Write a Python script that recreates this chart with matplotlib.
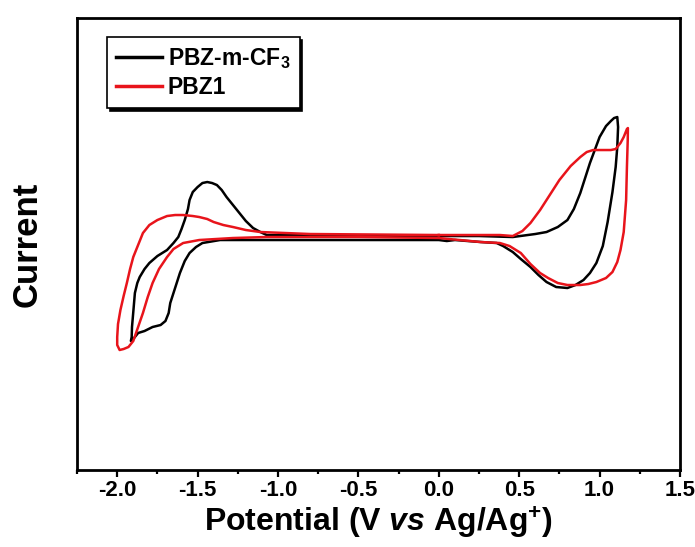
import matplotlib
matplotlib.use("Agg")
import matplotlib.pyplot as plt
from matplotlib.ticker import MultipleLocator

plt.rcParams['font.family'] = ['Liberation Sans', 'DejaVu Sans']
plt.rcParams['font.weight'] = 'bold'
plt.rcParams['mathtext.fontset'] = 'custom'
plt.rcParams['mathtext.rm'] = 'Liberation Sans:bold'
plt.rcParams['mathtext.it'] = 'Liberation Sans:italic:bold'
plt.rcParams['mathtext.bf'] = 'Liberation Sans:bold'

# potential (V vs Ag/Ag+) and current (arb. units)
cf3_v = [0.0, 0.25, 0.46, 0.60, 0.67, 0.74, 0.80, 0.84, 0.88, 0.94, 1.00, 1.04, 1.07, 1.09, 1.11,
         1.115, 1.11, 1.10, 1.08, 1.05, 1.02, 0.98, 0.94, 0.90, 0.85, 0.80, 0.73, 0.67, 0.62, 0.57,
         0.51, 0.46, 0.40, 0.36, 0.26, 0.10, 0.05, 0.0, -0.5, -1.0, -1.36, -1.47, -1.51, -1.55,
         -1.58, -1.61, -1.63, -1.65, -1.67, -1.68, -1.70, -1.73, -1.78, -1.83, -1.87, -1.90,
         -1.915, -1.91, -1.908, -1.90, -1.89, -1.875, -1.86, -1.83, -1.80, -1.75, -1.69, -1.65,
         -1.62, -1.60, -1.58, -1.56, -1.55, -1.53, -1.50, -1.47, -1.44, -1.41, -1.38, -1.35,
         -1.32, -1.28, -1.24, -1.20, -1.155, -1.11, -1.07, -0.5, 0.0]
cf3_i = [0.1, 0.1, 0.0, 0.3, 0.5, 1.0, 1.7, 2.8, 4.4, 7.4, 10.0, 11.1, 11.6, 11.9, 12.0,
         11.0, 9.0, 7.0, 4.5, 1.5, -0.9, -2.6, -3.6, -4.3, -4.8, -5.1, -5.0, -4.5, -3.8, -3.0,
         -2.2, -1.5, -0.9, -0.6, -0.5, -0.3, -0.4, -0.3, -0.3, -0.3, -0.3, -0.6, -1.0, -1.6,
         -2.4, -3.6, -4.6, -5.6, -6.6, -7.6, -8.4, -8.8, -9.0, -9.4, -9.6, -10.2,
         -10.4, -10.0, -9.0, -7.5, -5.6, -4.6, -4.0, -3.2, -2.6, -1.9, -1.3, -0.6,
         0.0, 0.8, 1.7, 2.8, 3.7, 4.5, 5.0, 5.4, 5.5, 5.4, 5.2, 4.7,
         4.0, 3.2, 2.4, 1.6, 0.9, 0.5, 0.2, 0.15, 0.1]

pbz1_v = [0.0, 0.38, 0.46, 0.52, 0.57, 0.63, 0.69, 0.75, 0.82, 0.88, 0.92, 0.96, 1.02, 1.07, 1.10,
          1.13, 1.15, 1.17, 1.176, 1.175, 1.17, 1.165, 1.15, 1.13, 1.11, 1.08, 1.04, 0.98, 0.93,
          0.88, 0.80, 0.74, 0.68, 0.63, 0.57, 0.51, 0.44, 0.38, 0.26, 0.0, -0.5, -1.07, -1.28,
          -1.49, -1.59, -1.65, -1.69, -1.74, -1.78, -1.81, -1.84, -1.87, -1.90, -1.93, -1.96,
          -1.985, -2.0, -2.0, -1.995, -1.98, -1.96, -1.94, -1.92, -1.90, -1.87, -1.84, -1.80,
          -1.75, -1.69, -1.64, -1.59, -1.53, -1.49, -1.44, -1.40, -1.34, -1.28, -1.20, -1.11,
          -0.8, 0.0]
pbz1_i = [0.2, 0.2, 0.1, 0.6, 1.4, 2.7, 4.2, 5.7, 7.1, 8.0, 8.5, 8.7, 8.7, 8.7, 8.8,
          9.4, 10.0, 10.8, 10.9, 9.7, 7.0, 3.7, 0.5, -1.3, -2.5, -3.5, -4.1, -4.5, -4.7,
          -4.8, -4.8, -4.6, -4.1, -3.6, -2.7, -1.6, -0.9, -0.6, -0.5, -0.1, 0.0, 0.0, -0.1,
          -0.3, -0.6, -1.2, -2.0, -3.2, -4.6, -6.0, -7.6, -9.0, -10.4, -11.0, -11.2,
          -11.3, -10.8, -10.0, -8.7, -7.3, -5.9, -4.6, -3.2, -2.0, -0.8, 0.4, 1.2,
          1.7, 2.1, 2.2, 2.2, 2.1, 2.0, 1.8, 1.5, 1.2, 1.0, 0.7, 0.5,
          0.3, 0.2]

fig = plt.figure(figsize=(6.95, 5.47), dpi=100)
ax = fig.add_axes([0.1108, 0.1408, 0.8676, 0.8262])

ax.plot(cf3_v, cf3_i, color='black', lw=1.8, label='PBZ-m-CF$_{3}$')
ax.plot(pbz1_v, pbz1_i, color='#e8141b', lw=1.8, label='PBZ1')

ax.set_xlim(-2.25, 1.5)
ax.set_ylim(-23.3, 21.9)
ax.xaxis.set_major_locator(MultipleLocator(0.5))
ax.xaxis.set_minor_locator(MultipleLocator(0.25))
ax.xaxis.set_major_formatter(plt.FuncFormatter(lambda x, p: f"{x:.1f}"))
ax.set_yticks([])
ax.tick_params(axis='x', which='major', direction='out', length=5, width=1.6,
               labelsize=16, pad=2)
ax.tick_params(axis='x', which='minor', direction='out', length=3, width=1.6)
for sp in ax.spines.values():
    sp.set_linewidth(2)

ax.set_xlabel(r"Potential (V $\mathit{vs}$ Ag/Ag$^{\mathbf{+}}$)", fontsize=23,
              fontweight='bold', labelpad=3)
ax.set_ylabel("Current", fontsize=25, fontweight='bold', labelpad=24)

leg = ax.legend(loc='upper left', bbox_to_anchor=(0.05, 0.958), borderaxespad=0,
                fancybox=False, shadow={'color': 'black', 'alpha': 1},
                edgecolor='black', fontsize=16.5, handlelength=2.0,
                handletextpad=0.25, labelspacing=0.2, borderpad=0.4)
leg.get_frame().set_linewidth(1.2)
for line in leg.get_lines():
    line.set_linewidth(2.5)

fig.savefig("out.png", dpi=100)
